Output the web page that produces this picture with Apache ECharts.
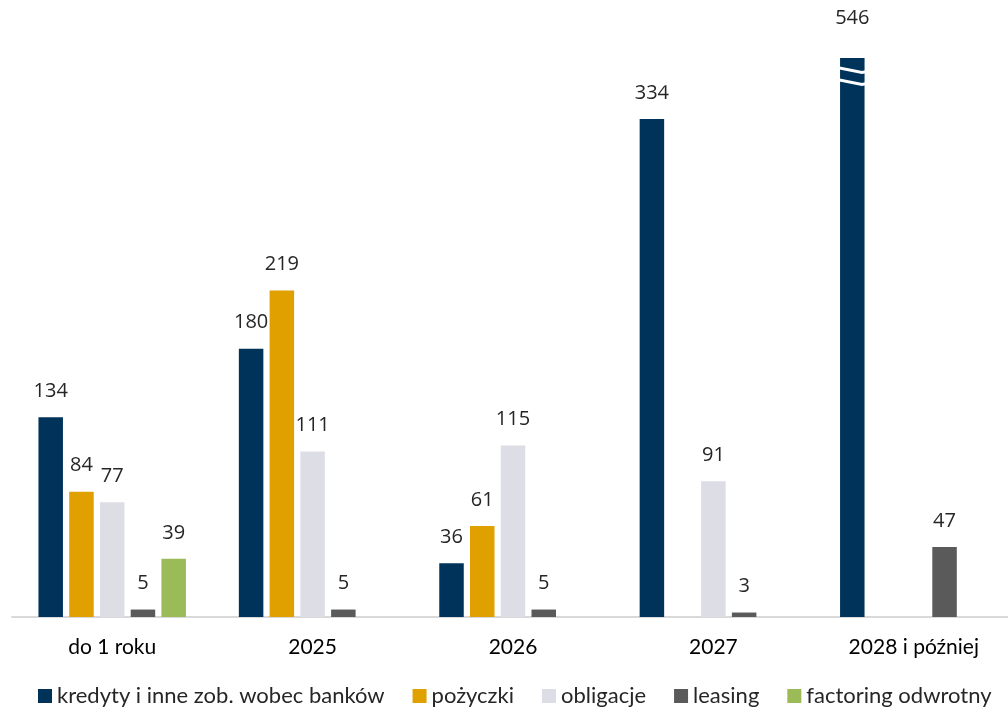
<!DOCTYPE html>
<html><head><meta charset="utf-8">
<script src="https://cdn.jsdelivr.net/npm/echarts@6/dist/echarts.min.js"></script>
<style>html,body{margin:0;padding:0;background:#fff;overflow:hidden}#c{width:1014px;height:707px}</style>
</head><body><div id="c"></div>
<script>
const categories = ['do 1 roku', '2025', '2026', '2027', '2028 i później'];
const seriesNames = ['kredyty i inne zob. wobec banków', 'pożyczki', 'obligacje', 'leasing', 'factoring odwrotny'];
const kredyty = [134, 180, 36, 334, 546];
const pozyczki = [84, 219, 61, null, null];
const obligacje = [77, 111, 115, 91, null];
const leasing = [5, 5, 5, 3, 47];
const factoring = [39, null, null, null, null];
const colors = ['#00335A', '#E0A000', '#DDDDE6', '#5A5A5A', '#9BBB59'];

const allData = [kredyty, pozyczki, obligacje, leasing, factoring];
const BREAK_START = 361, BREAK_END = 540;

const chart = echarts.init(document.getElementById('c'), null, {renderer: 'canvas'});
chart.setOption({
  animation: false,
  textStyle: {fontFamily: 'Lato'},
  grid: {left: 12, top: 58, width: 1002, bottom: 90, containLabel: false},
  legend: {
    top: 685, left: 38, width: 970, padding: 0,
    itemWidth: 14, itemHeight: 14, itemGap: 28,
    icon: 'rect',
    textStyle: {fontSize: 22, color: '#262626', fontFamily: 'Lato'},
    data: seriesNames
  },
  xAxis: {
    type: 'category', data: categories,
    axisLine: {lineStyle: {color: '#D9D9D9', width: 2}},
    axisTick: {show: false},
    axisLabel: {fontSize: 21, color: '#000', margin: 20, fontFamily: 'Lato'}
  },
  yAxis: {
    type: 'value', min: 0, max: 546,
    axisLabel: {show: false}, axisLine: {show: false}, axisTick: {show: false},
    splitLine: {show: false},
    breaks: [{start: BREAK_START, end: BREAK_END, gap: 8}],
    breakArea: {
      itemStyle: {color: 'rgba(0,0,0,0)', borderColor: '#fff', borderWidth: 3, borderType: 'solid'},
      zigzagAmplitude: 5, zigzagMinSpan: 50, zigzagMaxSpan: 50
    }
  },
  series: allData.map((d, i) => ({
    name: seriesNames[i], type: 'bar',
    data: d.map(v => (v !== null && v > BREAK_END) ? {value: v, label: {distance: 30}} : v),
    barWidth: 24.5, barGap: '25.5%',
    itemStyle: {color: colors[i]},
    label: {show: true, position: 'top', distance: 16, fontSize: 20, color: '#262626', fontFamily: 'Open Sans'}
  }))
});
</script></body></html>
